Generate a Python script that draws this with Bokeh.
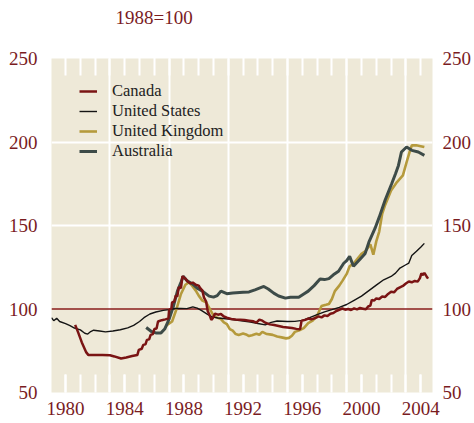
from bokeh.plotting import figure
from bokeh.models import Range1d, FixedTicker, LinearAxis, Span, Legend, LegendItem
from bokeh.embed import file_html
from bokeh.resources import INLINE

# ---------------- data (index, 1988=100) ----------------
title_text = "1988=100"

canada_year = [1980.65, 1980.85, 1981.1, 1981.4, 1981.55, 1982.0, 1982.5, 1983.0, 1983.3, 1983.75,
               1984.1, 1984.5, 1984.85, 1984.95, 1985.15, 1985.25, 1985.4, 1985.5, 1985.65, 1985.75,
               1985.9, 1986.0, 1986.15, 1986.25, 1986.5, 1986.75, 1986.95, 1987.0, 1987.15, 1987.2,
               1987.35, 1987.45, 1987.55, 1987.65, 1987.8, 1987.9, 1988.1, 1988.25, 1988.45, 1988.6,
               1988.8, 1989.0, 1989.1, 1989.25, 1989.35, 1989.5, 1989.6, 1989.75, 1989.85, 1989.95,
               1990.1, 1990.3, 1990.5, 1990.7, 1990.9, 1991.2, 1991.5, 1991.8, 1992.1, 1992.4,
               1992.7, 1992.9, 1993.1, 1993.3, 1993.5, 1993.8, 1994.1, 1994.4, 1994.7, 1995.0,
               1995.3, 1995.6, 1995.85, 1995.95, 1996.2, 1996.4, 1996.6, 1996.9, 1997.1, 1997.3,
               1997.5, 1997.7, 1997.9, 1998.1, 1998.3, 1998.5, 1998.7, 1998.9, 1999.1, 1999.3,
               1999.5, 1999.7, 1999.9, 2000.1, 2000.3, 2000.45, 2000.6, 2000.7, 2000.85, 2001.0,
               2001.2, 2001.4, 2001.6, 2001.8, 2002.0, 2002.2, 2002.4, 2002.6, 2002.8, 2003.0,
               2003.2, 2003.4, 2003.6, 2003.8, 2003.95, 2004.05, 2004.15, 2004.25, 2004.4, 2004.5]
canada_index = [90.5, 86.0, 80.0, 74.0, 72.4, 72.4, 72.4, 72.3, 71.6, 70.4,
                71.0, 71.8, 72.4, 75.5, 76.2, 78.5, 78.8, 81.5, 81.8, 84.5,
                85.0, 88.0, 88.3, 92.5, 93.3, 93.8, 94.3, 99.5, 100.2, 104.0,
                104.5, 108.0, 107.5, 113.0, 112.5, 119.6, 118.2, 116.5, 115.3, 115.8,
                114.5, 114.0, 112.5, 111.0, 107.0, 104.5, 99.0, 96.0, 93.5, 94.5,
                97.2, 96.6, 97.0, 95.5, 94.8, 94.0, 93.7, 93.6, 93.4, 93.0,
                92.6, 91.8, 93.6, 93.0, 91.8, 90.8, 90.4, 89.8, 89.2, 88.9,
                88.6, 88.1, 87.8, 93.0, 93.5, 94.3, 93.8, 94.6, 95.6, 95.0,
                96.2, 95.8, 97.2, 97.6, 98.8, 99.5, 100.3, 99.6, 100.0, 99.4,
                100.4, 99.8, 100.6, 100.2, 99.8, 101.5, 102.0, 105.5, 105.0, 106.3,
                106.0, 107.5, 107.2, 109.0, 110.3, 110.0, 112.0, 113.0, 113.8, 115.3,
                116.5, 116.0, 116.8, 116.4, 118.5, 121.4, 120.3, 121.6, 119.5, 118.2]

us_year = [1979.05, 1979.2, 1979.4, 1979.6, 1980.0, 1980.3, 1980.6, 1981.0, 1981.3, 1981.5,
           1981.7, 1981.9, 1982.3, 1982.7, 1983.2, 1983.7, 1984.2, 1984.6, 1985.0, 1985.3,
           1985.7, 1986.1, 1986.6, 1987.0, 1987.4, 1987.8, 1988.2, 1988.6, 1988.9, 1989.2,
           1989.6, 1989.9, 1990.3, 1991.0, 1991.5, 1992.0, 1992.5, 1993.0, 1993.5, 1993.9,
           1994.3, 1995.0, 1995.5, 1996.0, 1996.5, 1997.0, 1997.5, 1998.0, 1998.5, 1999.0,
           1999.5, 2000.0, 2000.5, 2001.0, 2001.5, 2002.0, 2002.3, 2002.6, 2003.0, 2003.2,
           2003.4, 2003.7, 2004.0, 2004.25]
us_index = [94.8, 93.0, 94.4, 92.5, 91.2, 90.0, 88.6, 87.5, 85.5, 85.0,
            86.5, 87.3, 86.8, 86.3, 86.8, 87.6, 88.7, 90.2, 92.5, 94.8,
            97.0, 98.2, 99.2, 99.6, 100.3, 100.3, 100.2, 101.3, 100.5, 99.0,
            96.8, 95.3, 94.6, 94.0, 93.4, 92.8, 92.2, 91.3, 90.5, 92.0,
            92.8, 92.5, 92.6, 93.2, 94.8, 96.6, 98.3, 99.6, 101.0, 102.7,
            105.2, 107.7, 111.0, 114.3, 117.5, 119.5, 121.5, 124.5, 126.5, 127.5,
            132.0, 134.5, 137.0, 139.3]

uk_year = [1986.8, 1987.2, 1987.5, 1987.8, 1988.1, 1988.35, 1988.55, 1988.8, 1989.0, 1989.25,
           1989.5, 1989.7, 1990.0, 1990.2, 1990.5, 1990.7, 1990.9, 1991.1, 1991.3, 1991.5,
           1991.7, 1992.0, 1992.2, 1992.4, 1992.6, 1992.9, 1993.1, 1993.3, 1993.6, 1993.8,
           1994.0, 1994.3, 1994.6, 1994.9, 1995.1, 1995.3, 1995.5, 1995.8, 1996.1, 1996.4,
           1996.7, 1997.0, 1997.3, 1997.6, 1997.8, 1998.0, 1998.2, 1998.5, 1998.7, 1999.0,
           1999.2, 1999.5, 1999.7, 2000.0, 2000.25, 2000.5, 2000.6, 2000.8, 2001.0, 2001.2,
           2001.4, 2001.6, 2002.0, 2002.4, 2002.8, 2003.05, 2003.25, 2003.4, 2003.7, 2004.0,
           2004.25]
uk_index = [90.0, 92.5, 100.0, 109.0, 114.5, 116.0, 114.0, 111.0, 108.0, 105.0,
            104.0, 100.8, 96.0, 95.0, 94.0, 92.0, 91.0, 88.0, 87.0, 85.0,
            84.5, 85.3, 84.8, 83.8, 84.3, 85.2, 84.6, 86.3, 85.0, 84.8,
            84.5, 83.5, 83.0, 82.4, 82.7, 84.0, 86.3, 87.2, 88.5, 91.5,
            93.0, 96.0, 101.8, 102.5, 103.0, 106.0, 110.7, 114.0, 116.7, 121.0,
            125.6, 127.5, 129.8, 133.0, 134.5, 137.5, 138.7, 132.5, 140.5, 146.4,
            157.0, 162.3, 171.0, 176.0, 180.0, 188.0, 194.0, 198.0, 198.0, 197.5,
            197.0]

aus_year = [1985.45, 1985.8, 1986.1, 1986.45, 1986.7, 1987.0, 1987.3, 1987.56, 1987.8, 1987.95,
            1988.2, 1988.57, 1988.9, 1989.25, 1989.7, 1990.0, 1990.25, 1990.5, 1990.9, 1991.3,
            1992.0, 1992.4, 1992.8, 1993.1, 1993.4, 1993.7, 1994.07, 1994.4, 1994.86, 1995.2,
            1995.76, 1996.1, 1996.4, 1996.8, 1997.2, 1997.5, 1997.8, 1998.1, 1998.45, 1998.8,
            1999.0, 1999.2, 1999.46, 1999.9, 2000.25, 2000.5, 2000.92, 2001.2, 2001.6, 2002.04,
            2002.3, 2002.5, 2002.7, 2003.05, 2003.4, 2003.84, 2004.25]
aus_index = [88.9, 86.5, 85.7, 85.7, 88.0, 94.0, 102.0, 110.7, 116.0, 119.6,
             117.0, 115.0, 112.5, 110.7, 107.7, 107.1, 108.0, 110.7, 109.2, 109.6,
             110.0, 110.2, 111.5, 112.5, 113.5, 112.0, 109.5, 107.8, 106.5, 107.0,
             107.0, 109.0, 110.7, 114.0, 117.9, 117.6, 118.2, 120.5, 122.6, 127.4,
             129.0, 131.5, 125.6, 129.8, 133.3, 140.0, 148.4, 155.0, 165.3, 175.0,
             181.0, 186.0, 194.0, 197.0, 195.0, 194.0, 192.0]

label_years = [1980, 1984, 1988, 1992, 1996, 2000, 2004]
tick_years = list(range(1980, 2005))
grid_years = [1983, 1987, 1991, 1995, 1999, 2003]
y_ticks = [50, 100, 150, 200, 250]
y_grid_values = [150, 200]
base_value = 100

# ---------------- styling ----------------
BG = "#eee9d8"
RED_TEXT = "#7a1c1f"
C_BASE = "#8a1c1c"
C_CANADA = "#7a1414"
C_US = "#141414"
C_UK = "#b59a3c"
C_AUS = "#3d4b48"
FONT = "Liberation Serif"
TICK_FS = "19px"

p = figure(width=474, height=423, output_backend="svg", toolbar_location=None,
           x_range=Range1d(1979.05, 2004.8), y_range=Range1d(50, 250),
           min_border_left=51, min_border_right=41, min_border_top=58, min_border_bottom=31,
           background_fill_color=BG, border_fill_color="white", outline_line_color=None,
           title=title_text)

p.title.text_font = FONT
p.title.text_font_size = TICK_FS
p.title.text_font_style = "normal"
p.title.text_color = RED_TEXT
p.title.align = "left"
p.title.offset = 64
p.title.standoff = 0

# grids
p.xgrid.ticker = FixedTicker(ticks=grid_years)
p.xgrid.grid_line_color = "white"
p.xgrid.grid_line_width = 2
p.ygrid.ticker = FixedTicker(ticks=y_grid_values)
p.ygrid.grid_line_color = "white"
p.ygrid.grid_line_width = 2

def style_ticks(ax, tick_len, tick_out=0):
    ax.axis_line_color = None
    ax.major_tick_in = tick_len
    ax.major_tick_out = tick_out
    ax.minor_tick_in = tick_len
    ax.minor_tick_out = tick_out
    ax.major_tick_line_color = "white"
    ax.minor_tick_line_color = "white"
    ax.major_tick_line_width = 2
    ax.minor_tick_line_width = 2

xb = p.xaxis[0]
xb.ticker = FixedTicker(ticks=label_years, minor_ticks=tick_years)
style_ticks(xb, 18)
xb.major_label_text_font = FONT
xb.major_label_text_font_size = TICK_FS
xb.major_label_text_color = RED_TEXT
xb.major_label_standoff = 9

# top edge: short white year ticks only (no labels); the white outer part is
# invisible on the white border and just reserves room below the subtitle
xt = LinearAxis(ticker=FixedTicker(ticks=[], minor_ticks=tick_years))
style_ticks(xt, 17, tick_out=31)
xt.major_label_standoff = 0
p.add_layout(xt, "above")

def style_y_axis(ax, standoff):
    ax.ticker = FixedTicker(ticks=y_ticks)
    ax.axis_line_color = None
    ax.major_tick_in = 0
    ax.major_tick_out = 0
    ax.minor_tick_line_color = None
    ax.major_tick_line_color = None
    ax.major_label_text_font = FONT
    ax.major_label_text_font_size = TICK_FS
    ax.major_label_text_color = RED_TEXT
    ax.major_label_standoff = standoff

style_y_axis(p.yaxis[0], 14)
yr = LinearAxis()
style_y_axis(yr, 10)
p.add_layout(yr, "right")

p.add_layout(Span(location=base_value, dimension="width", line_color=C_BASE,
                  line_width=1.3, level="underlay"))

r_uk = p.line(uk_year, uk_index, line_color=C_UK, line_width=2.6)
r_aus = p.line(aus_year, aus_index, line_color=C_AUS, line_width=3)
r_us = p.line(us_year, us_index, line_color=C_US, line_width=1.4)
r_ca = p.line(canada_year, canada_index, line_color=C_CANADA, line_width=2.5)

legend = Legend(items=[LegendItem(label="Canada", renderers=[r_ca]),
                       LegendItem(label="United States", renderers=[r_us]),
                       LegendItem(label="United Kingdom", renderers=[r_uk]),
                       LegendItem(label="Australia", renderers=[r_aus])],
                location=(28, 231), padding=0, margin=0, spacing=-3,
                glyph_width=18, glyph_height=18, label_height=18, label_standoff=15,
                label_text_font=FONT, label_text_font_size="16.5px", label_text_color="#222222",
                background_fill_alpha=0, border_line_alpha=0)
p.add_layout(legend)

open("out.html", "w").write(file_html(p, INLINE))
